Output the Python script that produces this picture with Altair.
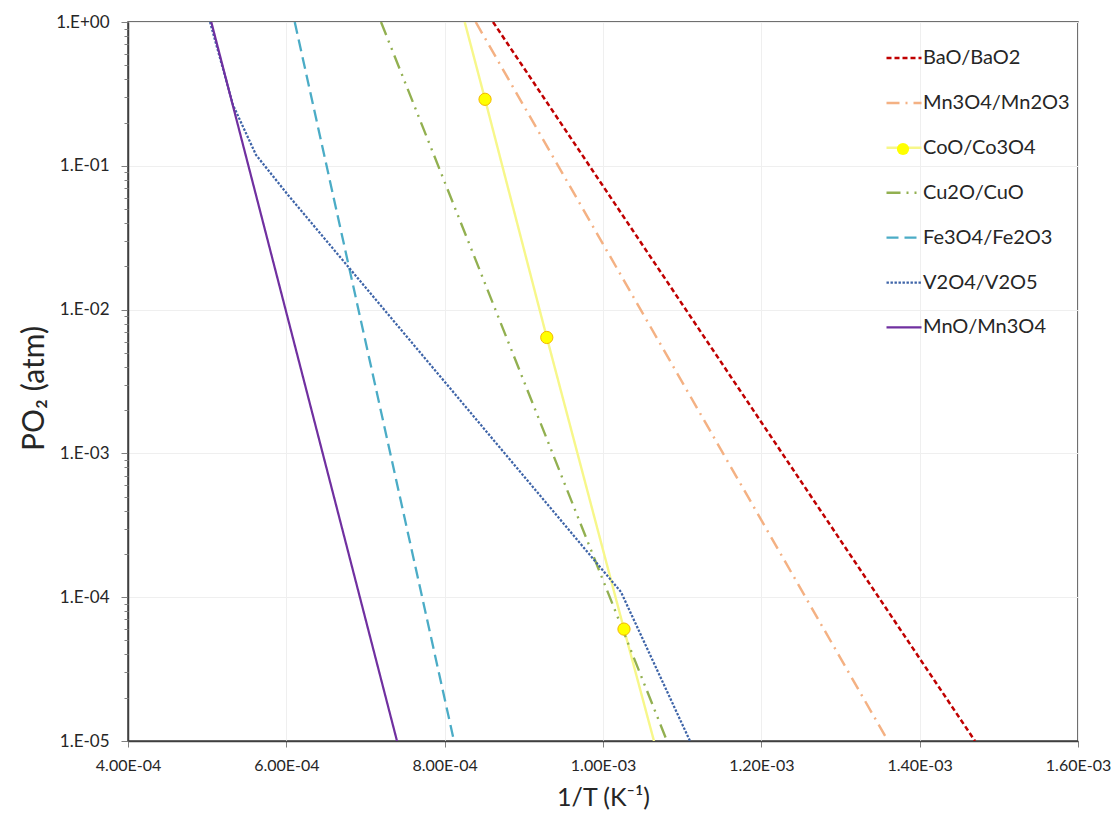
import altair as alt
import pandas as pd

# ---------------- data ----------------
SERIES = ["BaO/BaO2", "Mn3O4/Mn2O3", "CoO/Co3O4", "Cu2O/CuO",
          "Fe3O4/Fe2O3", "V2O4/V2O5", "MnO/Mn3O4"]
COLORS = ["#C00000", "#F4B183", "#F7F78A", "#92B050",
          "#4BACC6", "#3E64A8", "#7030A0"]
DASHES = [[5, 3], [13, 6, 2, 6], [1, 0], [14, 6, 2, 6, 2, 6],
          [12, 6], [2.4, 1.6], [1, 0]]
WIDTHS = [2.5, 2.2, 1.0, 2.5, 2.0, 2.3, 2.0]

BAO_X = [8.611e-4, 1.4699e-3]
BAO_Y = [1.0, 1e-5]
MN3O4_X = [8.392e-4, 1.360e-3]
MN3O4_Y = [1.0, 1e-5]
COO_X = [8.253e-4, 8.51e-4, 9.29e-4, 1.0265e-3, 1.0644e-3]
COO_Y = [1.0, 0.29, 6.4e-3, 6.0e-5, 1e-5]
CU2O_X = [7.196e-4, 1.0808e-3]
CU2O_Y = [1.0, 1e-5]
FE3O4_X = [6.106e-4, 8.118e-4]
FE3O4_Y = [1.0, 1e-5]
V2O4_X = [5.036e-4, 5.326e-4, 5.617e-4, 6.021e-4, 1.0227e-3, 1.1099e-3]
V2O4_Y = [1.0, 0.265, 0.119, 0.0627, 1.087e-4, 1e-5]
MNO_X = [5.052e-4, 7.398e-4]
MNO_Y = [1.0, 1e-5]

COO_MARK_X = [8.51e-4, 9.29e-4, 1.0265e-3]
COO_MARK_Y = [0.29, 6.4e-3, 6.0e-5]

X_TICKS = [4e-4, 6e-4, 8e-4, 1e-3, 1.2e-3, 1.4e-3, 1.6e-3]
X_LABELS = ["4.00E-04", "6.00E-04", "8.00E-04", "1.00E-03",
            "1.20E-03", "1.40E-03", "1.60E-03"]
Y_TICKS = [1e-5, 1e-4, 1e-3, 1e-2, 1e-1, 1.0]
Y_LABELS = ["1.E-05", "1.E-04", "1.E-03", "1.E-02", "1.E-01", "1.E+00"]
Y_MINOR = [m * 10.0 ** e for e in range(-5, 0) for m in range(2, 10)]

# ---------------- tables ----------------
xs = [BAO_X, MN3O4_X, COO_X, CU2O_X, FE3O4_X, V2O4_X, MNO_X]
ys = [BAO_Y, MN3O4_Y, COO_Y, CU2O_Y, FE3O4_Y, V2O4_Y, MNO_Y]
rows = []
for s, xx, yy in zip(SERIES, xs, ys):
    for i, (a, b) in enumerate(zip(xx, yy)):
        rows.append({"series": s, "x": a, "y": b, "i": i})
lines_df = pd.DataFrame(rows)
marks_df = pd.DataFrame({"x": COO_MARK_X, "y": COO_MARK_Y,
                         "mk": ["CoO/Co3O4"] * len(COO_MARK_X)})

FONT = "Lato"
TXT = "#262626"


def lab_expr(vals, labs):
    v = "[" + ",".join(repr(float(a)) for a in vals) + "]"
    l = "[" + ",".join("'" + s + "'" for s in labs) + "]"
    return f"{l}[indexof({v}, datum.value)]"


xscale = alt.Scale(domain=[4e-4, 1.6e-3], nice=False, zero=False)
yscale = alt.Scale(type="log", domain=[1e-5, 1.0], nice=False)

x_enc = alt.X("x:Q", scale=xscale,
              axis=alt.Axis(values=X_TICKS, labelExpr=lab_expr(X_TICKS, X_LABELS),
                            title="1/T (K⁻¹)", titleFontSize=25, titleFont=FONT,
                            titleFontWeight="normal", titleColor=TXT,
                            titleY=64, titleBaseline="alphabetic",
                            labelFont=FONT, labelFontSize=16, labelColor=TXT,
                            labelPadding=10, tickSize=6, tickColor="#808080",
                            grid=True, gridColor="#EFEFEF", gridWidth=1,
                            domainColor="#404040", domainWidth=1.5,
                            labelFlush=False))
y_enc = alt.Y("y:Q", scale=yscale,
              axis=alt.Axis(values=Y_TICKS, labelExpr=lab_expr(Y_TICKS, Y_LABELS),
                            title="PO₂ (atm)", titleFontSize=30, titleFont=FONT,
                            titleFontWeight="normal", titleColor=TXT,
                            titleX=-94, titleY=366, titleAngle=270,
                            titleAlign="center", titleBaseline="middle",
                            labelFont=FONT, labelFontSize=17, labelColor=TXT,
                            labelPadding=12, tickSize=7, tickColor="#808080",
                            grid=True, gridColor="#EFEFEF", gridWidth=1,
                            domainColor="#404040", domainWidth=1.5,
                            labelFlush=False))

LEG = dict(title=None, orient="none", legendX=757, legendY=17,
           symbolType="stroke", symbolSize=1225, symbolStrokeWidth=2,
           labelFont=FONT, labelFontSize=20, labelColor=TXT,
           labelOffset=0, rowPadding=15.9, padding=0)

lines = alt.Chart(lines_df).mark_line(clip=True).encode(
    x=x_enc,
    y=y_enc,
    order="i:Q",
    color=alt.Color("series:N", scale=alt.Scale(domain=SERIES, range=COLORS),
                    legend=alt.Legend(**LEG)),
    strokeDash=alt.StrokeDash("series:N", scale=alt.Scale(domain=SERIES, range=DASHES),
                              legend=alt.Legend(**LEG)),
    strokeWidth=alt.StrokeWidth("series:N", scale=alt.Scale(domain=SERIES, range=WIDTHS),
                                legend=None),
)

points = alt.Chart(marks_df).mark_point(
    filled=True, fill="#FFFF00", stroke="#F2B800", strokeWidth=1, size=150,
    opacity=1, clip=True
).encode(
    x=alt.X("x:Q", scale=xscale),
    y=alt.Y("y:Q", scale=yscale,
            axis=alt.Axis(values=Y_MINOR, labels=False, title=None, grid=False,
                          domain=False, tickSize=4, tickColor="#808080",
                          orient="left")),
    shape=alt.Shape("mk:N", scale=alt.Scale(range=["circle"]),
                    legend=alt.Legend(title=None, orient="none", legendX=768,
                                      legendY=120, symbolSize=150,
                                      symbolFillColor="#FFFF00",
                                      symbolStrokeColor="#F2B800",
                                      symbolStrokeWidth=1, labelExpr="''",
                                      padding=0)),
)

chart = alt.layer(lines, points).resolve_axis(y="independent").properties(
    width=950, height=719,
    autosize=alt.AutoSizeParams(type="none"),
    padding={"left": 120, "top": 14, "right": 34, "bottom": 72},
).configure_view(stroke="#404040", strokeWidth=1.5)

chart.save("out.html", embed_options={"renderer": "svg", "actions": False})
